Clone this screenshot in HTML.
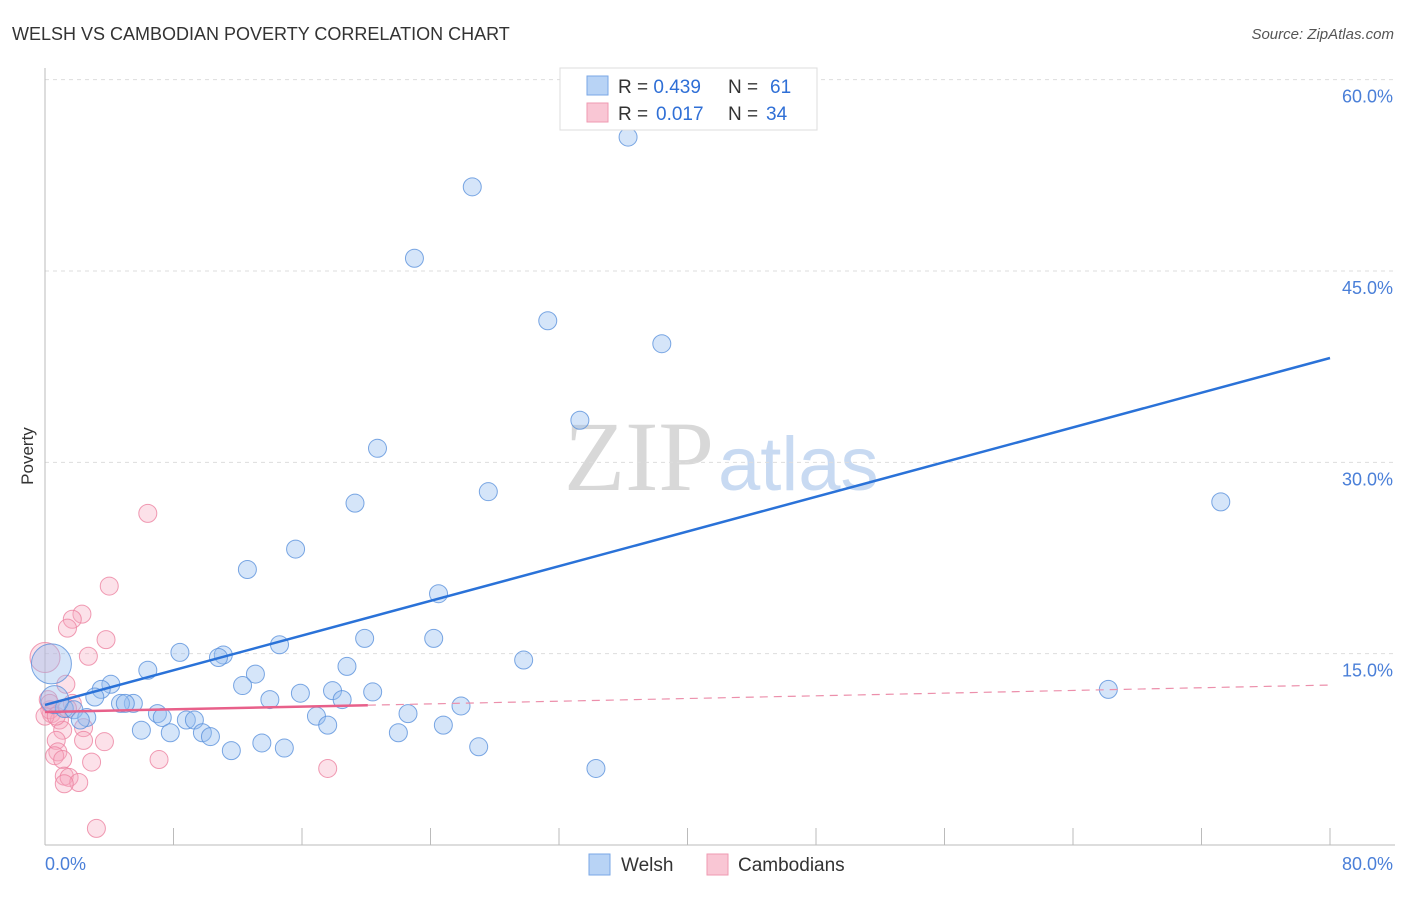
<!DOCTYPE html>
<html><head><meta charset="utf-8"><style>
body{margin:0;background:#fff;font-family:"Liberation Sans",sans-serif;}
svg text{font-family:"Liberation Sans",sans-serif;}
</style></head><body>
<svg width="1406" height="892" xmlns="http://www.w3.org/2000/svg">
<text x="12" y="40" font-size="18" fill="#333">WELSH VS CAMBODIAN POVERTY CORRELATION CHART</text>
<text x="1394" y="39" font-size="15" fill="#555" font-style="italic" text-anchor="end">Source: ZipAtlas.com</text>
<text x="714" y="490" font-size="100" fill="#d8d8d8" style="font-family:'Liberation Serif',serif" text-anchor="end">ZIP</text>
<text x="718" y="490" font-size="76" fill="#c8daf2">atlas</text>
<g id="grid"></g>
<g id="axes"></g>
<text x="33" y="456" font-size="17" fill="#333" transform="rotate(-90 33 456)" text-anchor="middle">Poverty</text>
<g id="pts"></g>
<g id="lines"></g>
<g>
<rect x="560" y="68" width="257" height="62" fill="#fff" stroke="#ddd"/>
<rect x="587" y="76" width="21" height="19" fill="#b8d3f5" stroke="#7aa7e6"/>
<rect x="587" y="103" width="21" height="19" fill="#f9c6d4" stroke="#ef9ab2"/>
<text x="618" y="93" font-size="19" fill="#333">R = <tspan fill="#2f6fd6">0.439</tspan>  <tspan x="728">N = </tspan><tspan fill="#2f6fd6" x="770">61</tspan></text>
<text x="618" y="120" font-size="19" fill="#333">R = <tspan fill="#2f6fd6" x="656">0.017</tspan><tspan x="728">N = </tspan><tspan fill="#2f6fd6" x="766">34</tspan></text>
</g>
<g>
<rect x="589" y="854" width="21" height="21" fill="#b8d3f5" stroke="#7aa7e6"/>
<text x="621" y="871" font-size="19" fill="#333">Welsh</text>
<rect x="707" y="854" width="21" height="21" fill="#f9c6d4" stroke="#ef9ab2"/>
<text x="738" y="871" font-size="19" fill="#333">Cambodians</text>
</g>
</svg>
<script>
const xTicks=[0,8,16,24,32,40,48,56,64,72,80];
const yTicks=[15,30,45,60];
const welshX=[36.3,26.6,23.0,31.3,38.4,33.3,20.7,27.6,19.3,73.2,15.6,12.6,24.5,19.9,24.2,14.6,8.4,11.1,10.8,6.4,29.8,13.1,18.8,4.1,3.5,3.1,12.3,15.9,17.9,20.4,18.5,14.0,66.2,5.5,4.7,5.0,1.2,1.8,25.9,7.0,7.3,8.8,9.3,2.6,2.2,16.9,22.6,17.6,24.8,6.0,7.8,9.8,10.3,22.0,13.5,14.9,11.6,27.0,34.3,0.4,0.6];
const welshY=[55.5,51.6,46.0,41.1,39.3,33.3,31.1,27.7,26.8,26.9,23.2,21.6,19.7,16.2,16.2,15.7,15.1,14.9,14.7,13.7,14.5,13.4,14.0,12.6,12.2,11.6,12.5,11.9,12.1,12.0,11.4,11.4,12.2,11.1,11.1,11.1,10.7,10.6,10.9,10.3,10.0,9.8,9.8,10.0,9.8,10.1,10.3,9.4,9.4,9.0,8.8,8.8,8.5,8.8,8.0,7.6,7.4,7.7,6.0,14.2,11.4];
const welshR=[9,9,9,9,9,9,9,9,9,9,9,9,9,9,9,9,9,9,9,9,9,9,9,9,9,9,9,9,9,9,9,9,9,9,9,9,9,9,9,9,9,9,9,9,9,9,9,9,9,9,9,9,9,9,9,9,9,9,9,20,14];
const cambX=[6.4,4.0,2.3,1.7,1.4,3.8,2.7,0,1.3,1.7,0.4,0.3,0.9,1.1,2.4,0.7,2.4,3.7,0.8,0.6,1.1,2.9,7.1,17.6,1.2,1.5,2.1,1.2,3.2,0.2,0,0.3,0.7,1.4];
const cambY=[26.0,20.3,18.1,17.7,17.0,16.1,14.8,14.7,12.6,11.1,10.3,10.6,9.8,9.0,9.2,8.2,8.2,8.1,7.3,7.0,6.7,6.5,6.7,6.0,5.4,5.3,4.9,4.8,1.3,11.4,10.1,11.1,10.1,10.7];
const welshLine=[10.98,38.18];
const cambLine=[10.43,12.54];
const cambSolidEnd=20.1;
const X=v=>45+v*1285/80, Y=v=>845-v*191.33/15;
const NS="http://www.w3.org/2000/svg";
function mk(tag,attrs,parent){const e=document.createElementNS(NS,tag);for(const k in attrs)e.setAttribute(k,attrs[k]);document.getElementById(parent).appendChild(e);return e;}
yTicks.forEach(t=>{
 const l=mk('line',{x1:45,x2:1395,y1:Y(t),y2:Y(t),stroke:'#ddd','stroke-dasharray':'4,4'},'grid');
 
 
 const tx=mk('text',{x:1393,y:Y(t)+23,'font-size':18,fill:'#4a7fd8','text-anchor':'end'},'grid');
 tx.textContent=t.toFixed(1)+'%';
 
 
});
const ax=mk('line',{x1:45,x2:45,y1:68,y2:845,stroke:'#bbb'},'axes');


const bx=mk('line',{x1:45,x2:1395,y1:845,y2:845,stroke:'#bbb'},'axes');


xTicks.forEach(t=>{
 const l=mk('line',{x1:X(t),x2:X(t),y1:828,y2:845,stroke:'#bbb'},'axes');
 
 
});
[[0,'start',45],[80,'end',1393]].forEach(([v,a,x])=>{
 const tx=mk('text',{x:x,y:870,'font-size':18,fill:'#4a7fd8','text-anchor':a},'axes');
 tx.textContent=v.toFixed(1)+'%';
 
 
});
cambX.forEach((v,i)=>{
 const c=mk('circle',{cx:X(v),cy:Y(cambY[i]),r:i==7?15:9,fill:'rgba(246,170,192,0.35)',stroke:'rgba(236,130,160,0.8)','stroke-width':1},'pts');
 
 
});
welshX.forEach((v,i)=>{
 const c=mk('circle',{cx:X(v),cy:Y(welshY[i]),r:welshR[i],fill:'rgba(150,190,240,0.4)',stroke:'rgba(90,145,220,0.8)','stroke-width':1},'pts');
 
 
});
const wl=mk('line',{x1:X(0),y1:Y(welshLine[0]),x2:X(80),y2:Y(welshLine[1]),stroke:'#2a72d8','stroke-width':2.5},'lines');


const ym=cambLine[0]+(cambLine[1]-cambLine[0])*cambSolidEnd/80;
const cl=mk('line',{x1:X(0),y1:Y(cambLine[0]),x2:X(cambSolidEnd),y2:Y(ym),stroke:'#e8608a','stroke-width':2.5},'lines');


const cd=mk('line',{x1:X(cambSolidEnd),y1:Y(ym),x2:X(80),y2:Y(cambLine[1]),stroke:'#ec8fab','stroke-width':1.2,'stroke-dasharray':'8,6'},'lines');


</script>
</body></html>
